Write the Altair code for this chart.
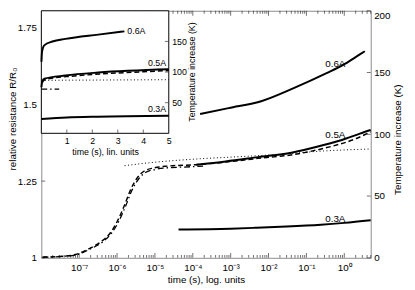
import altair as alt
import pandas as pd

# ---------------- data ----------------
# main panel: time (s) on a log axis, temperature increase (K)
t_dash = [1.08e-8, 2.92e-8, 7.91e-8, 1.75e-7, 3.86e-7, 7.01e-7, 1.045e-6, 1.56e-6, 2.31e-6,
          3.44e-6, 5.13e-6, 9.31e-6, 1.86e-5, 1.23e-4, 7.36e-4, 5.26e-3, 0.0392, 0.285, 2.08, 4.99]
T_dash = [0.56, 1.03, 2.62, 7.14, 13.25, 21.19, 30.40, 42.30, 55.56,
          64.84, 70.08, 72.78, 74.05, 75.4, 77.5, 80.5, 83.3, 88.6, 96.6, 102.0]

t_dashdot = [1.08e-8, 3.0e-8, 8.5e-8, 1.9e-7, 4.2e-7, 7.6e-7, 1.13e-6, 1.69e-6, 2.5e-6,
             3.75e-6, 5.6e-6, 1.0e-5, 2.0e-5, 5.0e-5, 1.87e-4]
T_dashdot = [0.5, 1.0, 2.5, 7.0, 13.0, 21.0, 30.0, 42.0, 55.0,
             64.0, 69.0, 71.5, 72.8, 73.4, 74.2]

t_dot = [1.58e-6, 7.46e-6, 1.23e-4, 1.34e-3, 0.0145, 0.285, 4.99]
T_dot = [74.6, 77.0, 80.0, 81.7, 83.5, 86.5, 88.1]

t_05 = [1.23e-4, 7.36e-4, 5.3e-3, 0.040, 0.285, 1.12, 2.59, 4.99]
T_05 = [75.4, 78.0, 81.5, 85.1, 91.3, 96.6, 100.6, 103.5]

t_06 = [1.56e-4, 8.8e-4, 6.7e-3, 0.0478, 0.341, 0.94, 2.04, 3.49]
T_06 = [116.4, 121.2, 127.0, 137.6, 149.5, 156.2, 162.7, 167.2]

t_03 = [4.2e-5, 1e-3, 4.4e-3, 0.03, 0.24, 1.0, 4.99]
T_03 = [23.0, 23.6, 24.3, 25.3, 26.8, 28.3, 30.4]

main_labels = ["0.6A", "0.5A", "0.3A"]
main_label_t = [0.58, 0.58, 0.58]
main_label_T = [157.0, 99.5, 31.5]

# inset: time (s) on a linear axis, temperature increase (K)
it_06 = [0.005, 0.027, 0.115, 0.435, 0.95, 2.23, 3.26]
iT_06 = [116.8, 132.8, 143.5, 149.9, 154.1, 161.1, 166.4]
it_05 = [0.005, 0.03, 0.115, 0.95, 2.23, 5.0]
iT_05 = [75.2, 84.0, 89.1, 94.4, 99.2, 104.5]
it_dash = [0.03, 0.115, 0.5, 1.0, 2.0, 3.0, 4.0, 5.0]
iT_dash = [82.5, 87.0, 90.5, 92.5, 96.0, 98.5, 100.5, 102.5]
it_dot = [0.0, 5.0]
iT_dot = [86.5, 87.5]
it_dashdot = [0.0, 0.7]
iT_dashdot = [72.0, 72.0]
it_03 = [0.005, 1.0, 2.2, 5.0]
iT_03 = [23.5, 25.8, 27.2, 28.8]

inset_labels = ["0.6A", "0.5A", "0.3A"]
inset_label_t = [3.73, 4.54, 4.54]
inset_label_T = [166.4, 114.0, 39.5]

# axes
x_major = [1e-7, 1e-6, 1e-5, 1e-4, 1e-3, 1e-2, 1e-1, 1e0]
x_major_labels = ["10⁻⁷", "10⁻⁶", "10⁻⁵", "10⁻⁴", "10⁻³", "10⁻²", "10⁻¹", "10⁰"]
x_minor = [k * 10.0 ** e for e in range(-8, 1) for k in range(2, 10) if k * 10.0 ** e <= 5]
r_ticks = [1, 1.25, 1.5, 1.75]
T_ticks = [0, 50, 100, 150, 200]
inset_t_ticks = [1, 2, 3, 4, 5]
inset_T_ticks = [50, 100, 150]

# ---------------- layout ----------------
W, H = 336, 252          # main plot area
IW, IH = 130, 125        # inset plot area (top-left corner of the main one)
FONT = "Liberation Sans"
AXIS_GRAY = "#8a8a8a"
TICK = "#333333"

label_expr = "".join(f"datum.value < {v * 3:g} ? '{lab}' : "
                     for v, lab in zip(x_major[:-1], x_major_labels[:-1])) + f"'{x_major_labels[-1]}'"


def xs_main():
    return alt.Scale(type="log", domain=[1e-8, 5], nice=False)


def ys_T():
    return alt.Scale(domain=[0, 200], nice=False, zero=False)


def ys_R():
    return alt.Scale(domain=[1, 1.805], nice=False, zero=False)


def xs_in():
    return alt.Scale(domain=[0, 5], range=[0, IW], nice=False, zero=False)


def ys_in():
    return alt.Scale(domain=[0, 200], range=[IH, 0], nice=False, zero=False)


def df(**cols):
    return pd.DataFrame(cols)


layers = []

# ---- left axis (relative resistance) + bottom log axis ----
layers.append(alt.Chart(df(t=[1e-8, 5], R=[1, 1.805])).mark_point(opacity=0).encode(
    x=alt.X("t:Q", scale=xs_main(), axis=alt.Axis(
        orient="bottom", values=x_major, labelExpr=label_expr, ticks=False, domain=False, grid=False,
        labelPadding=5, labelFontSize=10, labelOverlap=False, labelFlush=False,
        title="time (s), log. units", titleFontSize=10, titleY=22, titleBaseline="middle")),
    y=alt.Y("R:Q", scale=ys_R(), axis=alt.Axis(
        orient="left", values=r_ticks, format=".3~g", ticks=False, domain=False, grid=False,
        labelPadding=5, labelFontSize=10,
        title="relative resistance R/R₀", titleFontSize=10, titleAngle=270,
        titleX=-29, titleY=110, titleBaseline="middle", titleAlign="center")),
))
layers.append(alt.Chart(df(R=r_ticks)).mark_tick(orient="horizontal", size=4, thickness=1, color=TICK).encode(
    y=alt.Y("R:Q", scale=ys_R(), axis=None), x=alt.value(2)))

# ---- right axis (temperature) ----
layers.append(alt.Chart(df(t=[1e-8, 5], T=[0, 200])).mark_point(opacity=0).encode(
    x=alt.X("t:Q", scale=xs_main(), axis=None),
    y=alt.Y("T:Q", scale=ys_T(), axis=alt.Axis(
        orient="right", values=T_ticks, ticks=False, domain=False, grid=False,
        labelPadding=3, labelFontSize=10,
        labelBaseline={"condition": {"test": "datum.value >= 200", "value": "top"}, "value": "middle"},
        title="Temperature increase (K)", titleFontSize=10, titleAngle=270,
        titleX=27, titleY=131, titleBaseline="middle", titleAlign="center")),
))


def xtick(vals, size, ypos):
    return alt.Chart(df(t=vals)).mark_tick(orient="vertical", size=size, thickness=1, color=TICK).encode(
        x=alt.X("t:Q", scale=xs_main(), axis=None), y=alt.value(ypos))


layers += [xtick(x_major, 5, H - 2.5), xtick(x_minor, 3, H - 1.5), xtick(x_major, 5, 2.5), xtick(x_minor, 3, 1.5)]
layers.append(alt.Chart(df(T=T_ticks)).mark_tick(orient="horizontal", size=4, thickness=1, color=TICK).encode(
    y=alt.Y("T:Q", scale=ys_T(), axis=None), x=alt.value(W - 2)))


def main_line(t, T, **mk):
    return alt.Chart(df(t=t, T=T)).mark_line(color="black", interpolate="monotone", **mk).encode(
        x=alt.X("t:Q", scale=xs_main(), axis=None), y=alt.Y("T:Q", scale=ys_T(), axis=None))


layers += [
    main_line(t_dot, T_dot, strokeWidth=1, strokeDash=[1, 2.5]),
    main_line(t_dashdot, T_dashdot, strokeWidth=1.3, strokeDash=[6, 3, 1.5, 3]),
    main_line(t_dash, T_dash, strokeWidth=1.5, strokeDash=[5, 3]),
    main_line(t_05, T_05, strokeWidth=2),
    main_line(t_06, T_06, strokeWidth=2),
    main_line(t_03, T_03, strokeWidth=2),
]
layers.append(alt.Chart(df(lab=main_labels, t=main_label_t, T=main_label_T)).mark_text(
    font=FONT, fontSize=10, color="black", align="center", baseline="middle").encode(
    x=alt.X("t:Q", scale=xs_main(), axis=None), y=alt.Y("T:Q", scale=ys_T(), axis=None), text="lab:N"))

# ---------------- inset ----------------
layers.append(alt.Chart(df(x0=[0], x1=[5], y0=[0], y1=[200])).mark_rect(
    fill="white", stroke="black", strokeWidth=1).encode(
    x=alt.X("x0:Q", scale=xs_in(), axis=alt.Axis(
        orient="bottom", offset=-(H - IH), values=inset_t_ticks, ticks=False, domain=False, grid=False,
        labelPadding=3, labelFontSize=9, labelFlush=False, labelOverlap=False,
        title="time (s), lin. units", titleFontSize=9, titleY=19, titleBaseline="middle")),
    x2="x1:Q",
    y=alt.Y("y0:Q", scale=ys_in(), axis=alt.Axis(
        orient="right", offset=-(W - IW), values=inset_T_ticks, ticks=False, domain=False, grid=False,
        labelPadding=3, labelFontSize=9,
        title="Temperature increase (K)", titleFontSize=9, titleAngle=270,
        titleX=23, titleY=62, titleBaseline="middle", titleAlign="center")),
    y2="y1:Q",
))
layers.append(alt.Chart(df(t=inset_t_ticks[:-1])).mark_tick(orient="vertical", size=4, thickness=1, color=TICK).encode(
    x=alt.X("t:Q", scale=xs_in(), axis=None), y=alt.value(IH - 2)))
layers.append(alt.Chart(df(T=inset_T_ticks)).mark_tick(orient="horizontal", size=4, thickness=1, color=TICK).encode(
    y=alt.Y("T:Q", scale=ys_in(), axis=None), x=alt.value(IW - 2)))


def inset_line(t, T, **mk):
    return alt.Chart(df(t=t, T=T)).mark_line(color="black", interpolate="monotone", **mk).encode(
        x=alt.X("t:Q", scale=xs_in(), axis=None), y=alt.Y("T:Q", scale=ys_in(), axis=None))


layers += [
    inset_line(it_dot, iT_dot, strokeWidth=1, strokeDash=[1, 2.5]),
    inset_line(it_dashdot, iT_dashdot, strokeWidth=1.3, strokeDash=[6, 3, 1.5, 3]),
    inset_line(it_dash, iT_dash, strokeWidth=1.5, strokeDash=[5, 3]),
    inset_line(it_05, iT_05, strokeWidth=2),
    inset_line(it_06, iT_06, strokeWidth=2),
    inset_line(it_03, iT_03, strokeWidth=2),
]
layers.append(alt.Chart(df(lab=inset_labels, t=inset_label_t, T=inset_label_T)).mark_text(
    font=FONT, fontSize=9, color="black", align="center", baseline="middle").encode(
    x=alt.X("t:Q", scale=xs_in(), axis=None), y=alt.Y("T:Q", scale=ys_in(), axis=None), text="lab:N"))

chart = alt.layer(*layers).resolve_scale(x="independent", y="independent").properties(
    width=W, height=H,
    background="white",
    autosize=alt.AutoSizeParams(type="none"),
    padding={"left": 34, "top": 0, "right": 37, "bottom": 30},
).configure_view(stroke=AXIS_GRAY, strokeWidth=1).configure_axis(
    labelFont=FONT, titleFont=FONT, labelColor="black", titleColor="black", titleFontWeight="normal"
)

chart.save("out.html", embed_options={"renderer": "svg", "actions": False})
